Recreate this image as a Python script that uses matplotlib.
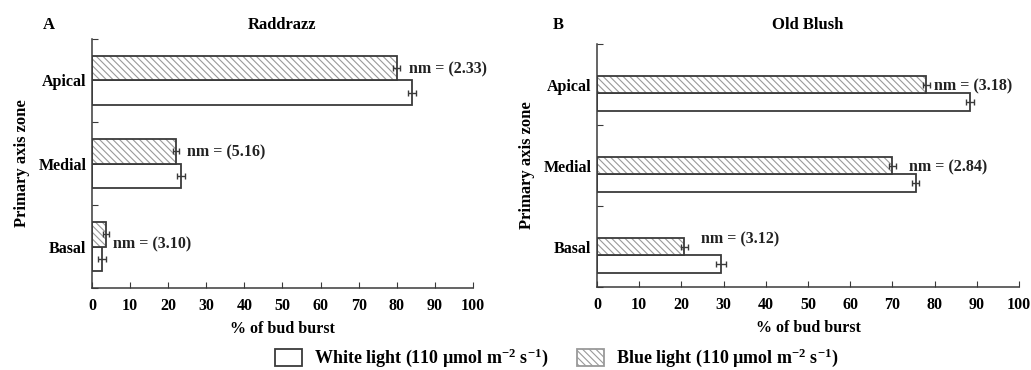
import matplotlib
matplotlib.use("Agg")
import matplotlib.pyplot as plt
from matplotlib.patches import Patch
import numpy as np

plt.rcParams['font.family'] = ['Liberation Serif', 'DejaVu Serif']
plt.rcParams['font.weight'] = 'bold'
plt.rcParams['hatch.linewidth'] = 0.8
plt.rcParams['mathtext.fontset'] = 'custom'
plt.rcParams['mathtext.rm'] = 'Liberation Serif:bold'
plt.rcParams['mathtext.it'] = 'Liberation Serif:bold'
plt.rcParams['mathtext.bf'] = 'Liberation Serif:bold'

# Data
zones = ["Apical", "Medial", "Basal"]
titles = ["Raddrazz", "Old Blush"]
panel_tags = ["A", "B"]

white_a = [84.0, 23.4, 2.7]
white_a_err = [1.0, 1.0, 1.0]
blue_a = [80.0, 22.0, 3.7]
blue_a_err = [0.9, 0.8, 0.8]
nm_a = ["nm = (2.33)", "nm = (5.16)", "nm = (3.10)"]

white_b = [88.4, 75.5, 29.3]
white_b_err = [0.9, 0.8, 1.2]
blue_b = [78.0, 70.0, 20.7]
blue_b_err = [0.8, 0.9, 0.9]
nm_b = ["nm = (3.18)", "nm = (2.84)", "nm = (3.12)"]

EDGE = "#3a3a3a"
HATCH = "#9a9a9a"
FS = 11.5


def draw_panel(ax, white, white_err, blue, blue_err, notes, bar_h, blue_off,
               note_pads, note_dy):
    centers = np.array([2.5, 1.5, 0.5])
    yb = centers + blue_off
    yw = yb - bar_h
    ax.barh(yw, white, height=bar_h, color="white", edgecolor=EDGE,
            linewidth=1.3, zorder=2)
    # hatch in grey, then dark outline on top
    ax.barh(yb, blue, height=bar_h, color="white", edgecolor=HATCH,
            hatch="\\\\\\\\\\", linewidth=0, zorder=2)
    ax.barh(yb, blue, height=bar_h, color="none", edgecolor=EDGE,
            linewidth=1.3, zorder=3)
    ax.errorbar(white, yw, xerr=white_err, fmt="none", ecolor=EDGE,
                elinewidth=1, capsize=2.5, zorder=4)
    ax.errorbar(blue, yb, xerr=blue_err, fmt="none", ecolor=EDGE,
                elinewidth=1, capsize=2.5, zorder=4)
    for i in range(3):
        ax.annotate(notes[i], (blue[i] + blue_err[i], yb[i]),
                    xytext=(note_pads[i], note_dy[i]), textcoords="offset points",
                    ha="left", va="center", fontsize=FS, fontweight="bold",
                    color="#222222")

    ax.set_xlim(0, 100)
    ax.set_ylim(0, 3)
    ax.set_xticks(np.arange(0, 101, 10))
    ax.set_yticks([0, 1, 2, 3])
    ax.set_yticklabels([])
    ax.set_yticks(centers, minor=True)
    ax.set_yticklabels(zones, minor=True)
    ax.tick_params(axis="y", which="minor", length=0, labelsize=FS, pad=4)
    ax.tick_params(axis="y", which="major", direction="in", length=4,
                   color=EDGE)
    ax.tick_params(axis="x", direction="in", length=4, labelsize=FS,
                   color=EDGE, pad=7)
    for s in ["top", "right"]:
        ax.spines[s].set_visible(False)
    for s in ["left", "bottom"]:
        ax.spines[s].set_color(EDGE)
        ax.spines[s].set_linewidth(1.1)
    ax.set_xlabel("% of bud burst", fontsize=FS, fontweight="bold", labelpad=5)
    ax.set_ylabel("Primary axis zone", fontsize=12, fontweight="bold", labelpad=6)


fig = plt.figure(figsize=(10.31, 3.70), dpi=100)
ax1 = fig.add_axes([0.0892, 0.2216, 0.3696, 0.673])
ax2 = fig.add_axes([0.579, 0.2243, 0.4094, 0.6567])

draw_panel(ax1, white_a, white_a_err, blue_a, blue_a_err, nm_a,
           0.29, 0.145, [6, 6, 3], [-1, -1, -7])
draw_panel(ax2, white_b, white_b_err, blue_b, blue_b_err, nm_b,
           0.22, 0.0, [3, 9, 9], [-1, -1, 5])

for ax, title, tag, tx in zip([ax1, ax2], titles, panel_tags, [0.0417, 0.5364]):
    pos = ax.get_position()
    fig.text((pos.x0 + pos.x1) / 2, 0.932, title, fontsize=12,
             fontweight="bold", ha="center", va="center")
    fig.text(tx, 0.932, tag, fontsize=12, fontweight="bold",
             ha="left", va="center")

handles = [
    Patch(facecolor="white", edgecolor=EDGE, linewidth=1.3,
          label="White light (110 \u00b5mol m$^{-2}$ s$^{-1}$)"),
    Patch(facecolor="white", edgecolor=HATCH, hatch="\\\\\\\\\\", linewidth=1.3,
          label="Blue light (110 \u00b5mol m$^{-2}$ s$^{-1}$)"),
]
fig.legend(handles=handles, loc="center", bbox_to_anchor=(0.540, 0.032),
           ncol=2, frameon=False, fontsize=13, handlelength=1.5,
           handleheight=1.1, columnspacing=1.6, handletextpad=0.65,
           borderpad=0.1)

fig.savefig("out.png", dpi=100)
